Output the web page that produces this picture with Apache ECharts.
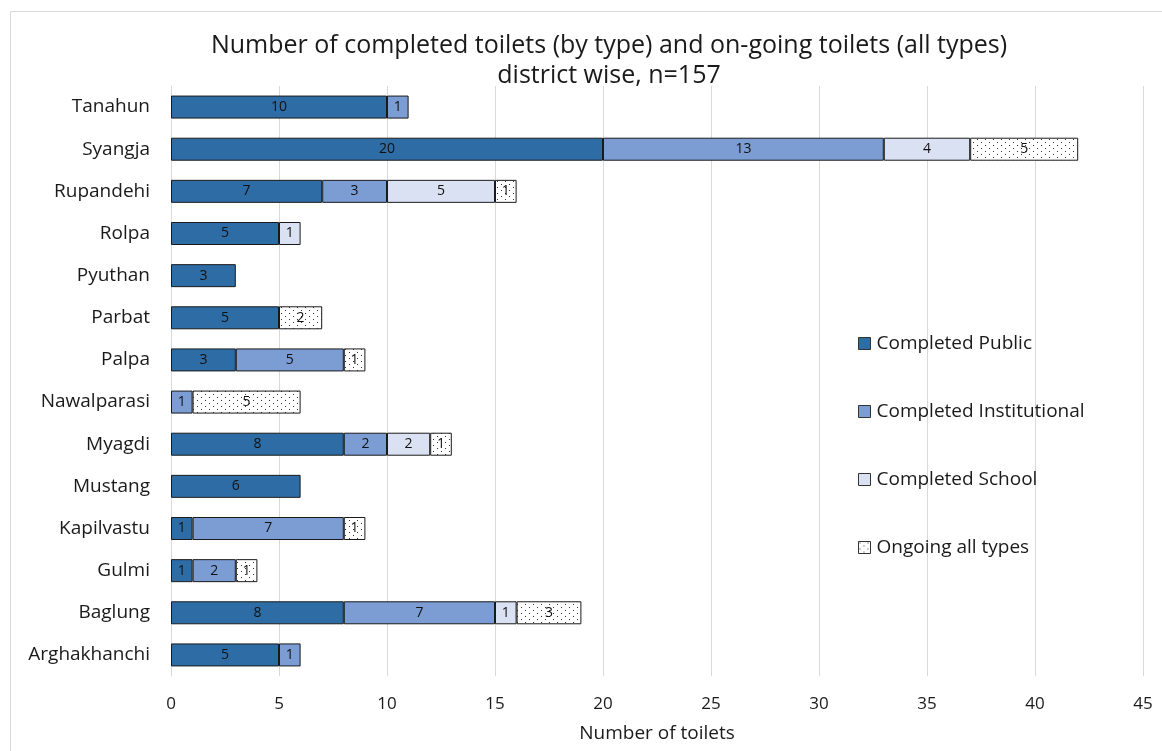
<!DOCTYPE html>
<html>
<head>
<meta charset="utf-8">
<script src="https://cdn.jsdelivr.net/npm/echarts@6/dist/echarts.min.js"></script>
<style>
  html, body { margin: 0; padding: 0; background: #ffffff; }
  #chart { width: 1162px; height: 751px; }
</style>
</head>
<body>
<div id="chart"></div>
<script>
// Districts, listed bottom to top as drawn on the category axis
const districts = ['Arghakhanchi', 'Baglung', 'Gulmi', 'Kapilvastu', 'Mustang', 'Myagdi', 'Nawalparasi',
  'Palpa', 'Parbat', 'Pyuthan', 'Rolpa', 'Rupandehi', 'Syangja', 'Tanahun'];

// Toilet counts per district (null = no segment)
const completedPublic        = [5, 8, 1, 1, 6, 8, null, 3, 5, 3, 5, 7, 20, 10];
const completedInstitutional = [1, 7, 2, 7, null, 2, 1, 5, null, null, null, 3, 13, 1];
const completedSchool        = [null, 1, null, null, null, 2, null, null, null, null, 1, 5, 4, null];
const ongoingAllTypes        = [null, 3, 1, 1, null, 1, 5, 1, 2, null, null, 1, 5, null];

const xTicks = { min: 0, max: 45, interval: 5 };
const FONT = '"Open Sans", Lato, sans-serif';

// Dotted fill for the ongoing segments
function dotPattern() {
  const c = document.createElement('canvas');
  c.width = 8; c.height = 6;
  const g = c.getContext('2d');
  g.fillStyle = '#ffffff';
  g.fillRect(0, 0, 8, 6);
  g.fillStyle = '#333333';
  g.fillRect(1, 1, 1, 1);
  g.fillRect(5, 4, 1, 1);
  return c;
}
const dots = { image: dotPattern(), repeat: 'repeat' };

function makeSeries(name, data, fill) {
  return {
    name: name,
    type: 'bar',
    stack: 'total',
    data: data,
    barWidth: 23,
    itemStyle: { color: fill, borderColor: '#1a1a1a', borderWidth: 1 },
    label: {
      show: true,
      position: 'inside',
      color: '#111111',
      fontFamily: FONT,
      fontSize: 14,
      formatter: p => (p.value == null ? '' : p.value)
    },
    emphasis: { disabled: true }
  };
}

const chart = echarts.init(document.getElementById('chart'));
chart.setOption({
  animation: false,
  backgroundColor: '#ffffff',
  graphic: [{
    type: 'rect',
    shape: { x: 10.5, y: 11.5, width: 1160, height: 760 },
    style: { fill: 'none', stroke: '#d9d9d9', lineWidth: 1 },
    silent: true,
    z: -1
  }],
  title: {
    text: 'Number of completed toilets (by type) and on-going toilets (all types)\ndistrict wise, n=157',
    left: 604,
    textAlign: 'center',
    top: 26,
    textStyle: { fontFamily: FONT, fontSize: 25, fontWeight: 'normal', color: '#1a1a1a', lineHeight: 30 }
  },
  legend: {
    orient: 'vertical',
    left: 853,
    top: 329,
    itemGap: 49,
    itemWidth: 12,
    itemHeight: 12,
    icon: 'rect',
    itemStyle: { borderColor: '#333333', borderWidth: 1 },
    textStyle: { fontFamily: FONT, fontSize: 19, color: '#1a1a1a', padding: [0, 0, 0, 1] },
    data: ['Completed Public', 'Completed Institutional', 'Completed School', 'Ongoing all types']
  },
  grid: { left: 171, right: 19, top: 86, bottom: 75 },
  xAxis: {
    type: 'value',
    min: xTicks.min,
    max: xTicks.max,
    interval: xTicks.interval,
    name: 'Number of toilets',
    nameLocation: 'middle',
    nameGap: 48,
    nameTextStyle: { fontFamily: FONT, fontSize: 19, color: '#1a1a1a' },
    axisLine: { show: false },
    axisTick: { show: false },
    axisLabel: { fontFamily: FONT, fontSize: 17, color: '#1a1a1a', margin: 20 },
    splitLine: { show: true, lineStyle: { color: '#d9d9d9', width: 1 } }
  },
  yAxis: {
    type: 'category',
    data: districts,
    axisLine: { show: true, lineStyle: { color: '#d9d9d9' } },
    axisTick: { show: false },
    axisLabel: { fontFamily: FONT, fontSize: 19, color: '#1a1a1a', margin: 21 }
  },
  series: [
    makeSeries('Completed Public', completedPublic, '#2e6ca6'),
    makeSeries('Completed Institutional', completedInstitutional, '#7b9dd4'),
    makeSeries('Completed School', completedSchool, '#d9e1f2'),
    makeSeries('Ongoing all types', ongoingAllTypes, dots)
  ]
});
</script>
</body>
</html>
